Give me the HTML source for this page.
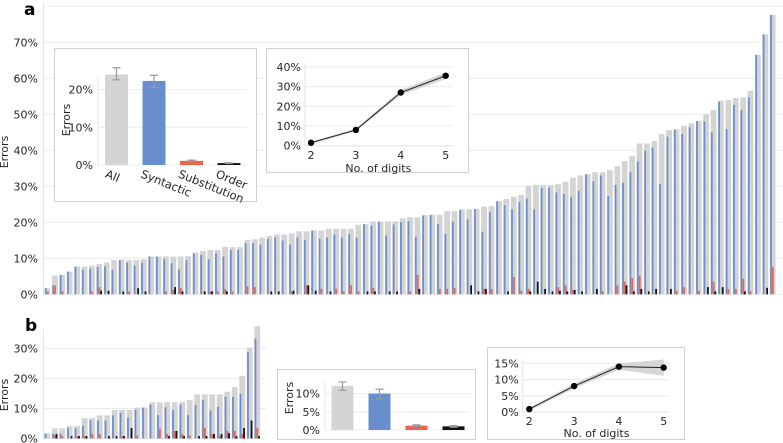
<!DOCTYPE html>
<html><head><meta charset="utf-8">
<style>
html,body{margin:0;padding:0;background:#fff;}
svg{display:block;font-family:"DejaVu Sans","Liberation Sans",sans-serif;}
</style></head>
<body>
<svg id="chart" width="783" height="443" viewBox="0 0 783 443" xmlns="http://www.w3.org/2000/svg"></svg>
<script>
// ---------- data ----------
const aAll = [1.7,5.2,5.4,6.3,7.7,7.7,7.9,8.4,8.8,9.5,9.6,9.5,9.5,9.7,10.5,10.5,10.5,10.5,10.5,10.6,11.6,12,12.3,12.3,13.2,13.1,13.1,15.1,15.3,15.8,16.2,16.6,16.6,16.9,17.5,17.5,17.7,17.7,18.2,18.2,18.2,18.2,19.3,19.5,20.2,20.2,20.2,20.3,
21.1,21.4,21.4,22.0,22.1,22.1,23.1,23.1,23.6,23.6,23.7,24.4,24.5,25.9,26.5,27.1,27.6,30.1,30.4,30.4,30.4,30.6,31.3,32.4,33.0,33.4,33.9,33.9,34.5,35.6,37.0,38.4,41.9,41.9,42.6,44.5,45.6,45.9,46.8,47.5,48.1,50.0,51.2,53.8,54.0,54.5,54.7,56.5,66.5,72.2,77.6];
const aSyn = [1.7,2.5,5.4,6.3,7.7,6.8,7.1,7.6,7.8,6.8,9.5,8.8,8.0,8.8,10.5,10.5,9.8,8.6,6.9,9.5,11.3,10.9,9.7,11.4,10.5,12.3,12.3,14.2,14.2,13.8,15.4,15.8,14.9,13.8,15.8,15.1,17.7,15.5,15.8,16.6,15.8,16.8,15.8,19.5,19.0,20.2,16.3,19.4,
20.0,20.3,16.0,21.9,22.0,19.5,16.8,20.2,23.4,20.9,23.7,17.4,22.9,25.8,24.8,23.6,25.6,26.6,23.6,29.6,29.6,28.3,27.9,26.9,28.7,33.3,31.4,33.0,27.3,30.4,31.0,33.9,36.9,39.9,40.8,30.7,43.8,45.7,44.5,46.4,48.1,48.0,45.0,53.5,45.9,52.6,51.2,54.7,66.5,72.2,77.6];
const aSub = [0.8,2.4,0.8,0,0,0,0.8,2.0,0,0,0,0.8,0,0,0,0,0.8,1.2,1.8,0,0,0,0.8,0.8,1.5,0.8,0,2.2,2.0,0,0,0,0,0.8,0,2.5,0,1.5,0,1.6,0.8,2.5,0.8,0,1.8,0,0,0,
0,0.8,5.4,0,0,1.5,1.5,1.8,0,0,0,1.5,1.5,0,0,4.8,1.0,1.5,0,0,0,2.0,2.5,1.2,0,0,0,0.8,0,2.5,3.5,4.5,5.2,0,0,0,0,1.0,2.0,0,1.0,0,3.5,0,1.5,1.5,4.3,0.8,0,0,7.5];
const aOrd = [0,0,0,0,0,0,0,1.0,1.0,0,0.8,0,1.7,0.8,0,0,0,2.0,0.8,0,0,0.8,0.8,0,0.8,0,0,0,0,0,0.8,0.8,0,1.0,0,2.5,1.0,0,0.8,0,0,0,0,0.8,0.8,0,0.8,0.8,
0,0,1.5,0,0,0,0,0,0,2.5,0.8,1.5,0,0,0.8,0,0,0.8,3.5,1.5,0.8,1.0,0.8,1.2,0.8,0,1.5,0,0,0,2.5,0.8,1.5,0.8,1.5,0,1.5,0,0,0,0,2.0,0.8,2.0,0,0,0.8,0,0,1.8,0];
const aTicks = ["0%","10%","20%","30%","40%","50%","60%","70%"];

const bAll = [1.7,3.4,3.4,4.2,4.2,6.8,6.8,7.7,7.7,9.5,9.5,9.5,10.3,10.3,12.1,12.1,12.1,12.1,12.2,12.8,14.7,14.7,14.7,14.7,15.6,17.2,20.9,30.3,37.4];
const bSyn = [1.6,1.6,1.6,3.5,3.4,4.3,6.1,6.0,6.0,7.7,8.6,7.0,9.6,10.3,11.3,7.8,10.4,9.5,11.3,7.8,11.2,12.9,9.4,10.5,13.9,13.9,14.9,28.7,33.3];
const bSub = [0,1.2,0.8,0,0.8,0.8,1.5,1.5,0,0,0.8,0,1.0,0,0,3.3,1.5,2.5,1.5,1.0,0,3.5,1.5,0.8,2.5,2.5,1.5,0,3.5];
const bOrd = [0,1.5,0,0.8,0.8,0.8,0,0,0.8,0.8,0.8,3.5,0,0,0,0,0.8,2.5,0.8,0,0.8,0.8,1.5,1.5,1.8,0.8,3.5,6.0,0.8];
const bTicks = ["0%","10%","20%","30%"];

const catNames = ["All","Syntactic","Substitution","Order"];
const aCatMean = [24.0,22.3,1.1,0.5];
const aCatLo = [22.6,20.6,1.0,0.4];
const aCatHi = [25.8,23.8,1.3,0.6];
const bCatMean = [12.1,10.0,1.2,1.0];
const bCatLo = [10.9,8.6,1.0,0.8];
const bCatHi = [13.2,11.2,1.4,1.2];

const digits = [2,3,4,5];
const aDigMean = [1.5,8.0,27.0,35.5];
const aDigLo = [1.0,7.3,25.8,33.8];
const aDigHi = [2.0,8.7,28.3,37.2];
const bDigMean = [0.9,8.0,14.0,13.7];
const bDigLo = [0.5,7.3,13.0,11.2];
const bDigHi = [1.3,8.8,15.0,16.2];

// ---------- helpers ----------
const svg = document.getElementById('chart');
const NS = 'http://www.w3.org/2000/svg';
function mk(tag, attrs, parent){
  const e = document.createElementNS(NS, tag);
  for (const k in attrs) e.setAttribute(k, attrs[k]);
  (parent||svg).appendChild(e);
  return e;
}
const C = {all:'#d4d4d4', syn:'#6a8dcd', sub:'#f0624d', ord:'#111111', grid:'#ececec', box:'#d0d0d0', txt:'#262626'};

function text(x,y,s,opts,parent){
  const t = mk('text', Object.assign({x:x,y:y,'font-size':11,fill:C.txt}, opts||{}), parent);
  t.textContent = s;
  return t;
}

// ---------- main bar panels ----------
function mainPanel(name, all, syn, sub, ord, ticks, x0, step, y0, pxPer, gridRight, extraTop){
  const g = mk('g', {});
  
  
  const yS = v => y0 - v * pxPer;
  const xS = i => x0 + i * step;
  const gridVals = ticks.map((t,i)=>i*10).concat(extraTop ? [ticks.length*10] : []);
  gridVals.forEach(v=>{
    const l = mk('line',{x1:44,x2:gridRight,y1:yS(v),y2:yS(v),stroke:C.grid,'stroke-width':1}, g);
    
    
  });
  ticks.forEach((t,i)=>{
    const tt = text(38, yS(i*10)+4, t, {'text-anchor':'end'}, g);
    
    
  });
  const ax = mk('line',{x1:43.5,x2:43.5,y1:yS(extraTop?ticks.length*10:ticks.length*10-5)-4,y2:y0,stroke:'#e4e4e4','stroke-width':1}, g);
  
  
  const gw = step*0.78, sw = gw/3.3;
  all.forEach((v,i)=>{
    const c = xS(i);
    const r1 = mk('rect',{x:c-gw/2,y:yS(v),width:gw,height:v*pxPer,fill:C.all}, g);
    
    
    const r2 = mk('rect',{x:c-gw/2+0.3,y:yS(syn[i]),width:sw,height:syn[i]*pxPer,fill:C.syn}, g);
    
    
    if (sub[i]>0){
      const r3 = mk('rect',{x:c-sw/2+0.2,y:yS(sub[i]),width:sw,height:sub[i]*pxPer,fill:C.sub}, g);
      
      
    }
    if (ord[i]>0){
      const r4 = mk('rect',{x:c+gw/2-sw-0.2,y:yS(ord[i]),width:sw,height:ord[i]*pxPer,fill:C.ord}, g);
      
      
    }
  });
}

// ---------- category inset ----------
function catInset(name, box, axX, y0, pxPer, tickVals, mean, lo, hi, barX0, barStep, barW, gridR, showLabels, errLabelY){
  const g = mk('g',{});
  
  
  const b = mk('rect',{x:box[0]+0.5,y:box[1]+0.5,width:box[2],height:box[3],fill:'#fff',stroke:C.box,'stroke-width':1}, g);
  
  
  const yS = v => y0 - v*pxPer;
  tickVals.forEach(v=>{
    const l = mk('line',{x1:axX,x2:gridR,y1:yS(v),y2:yS(v),stroke:C.grid,'stroke-width':1}, g);
    
    
    const t = text(axX-5, yS(v)+4, v+'%', {'text-anchor':'end'}, g);
    
    
  });
  const ax = mk('line',{x1:axX,x2:axX,y1:yS(tickVals[tickVals.length-1])-12,y2:y0,stroke:'#e4e4e4'}, g);
  
  
  const yl = text(0,0,'Errors',{'text-anchor':'middle',transform:`translate(${box[0]+16},${errLabelY}) rotate(-90)`}, g);
  
  
  const cols = [C.all,C.syn,C.sub,C.ord];
  mean.forEach((v,i)=>{
    const c = barX0 + i*barStep;
    const r = mk('rect',{x:c-barW/2,y:yS(v),width:barW,height:v*pxPer,fill:cols[i]}, g);
    
    
    const e = mk('path',{d:`M${c-4},${yS(hi[i])}H${c+4}M${c},${yS(hi[i])}V${yS(lo[i])}M${c-4},${yS(lo[i])}H${c+4}`,stroke:'#999','stroke-width':1.2,fill:'none'}, g);
    
    
    if (showLabels){
      const t = text(0,0,catNames[i],{'font-size':11.5,transform:`translate(${c-14+(i===0?2:0)},${y0+12}) rotate(22)`}, g);
      
      
    }
  });
}

// ---------- digits inset ----------
function digInset(name, box, axX, y0, pxPer, tickVals, x2, xStep, mean, lo, hi, gridR, labY, titleY){
  const g = mk('g',{});
  
  
  const b = mk('rect',{x:box[0]+0.5,y:box[1]+0.5,width:box[2],height:box[3],fill:'#fff',stroke:C.box,'stroke-width':1}, g);
  
  
  const yS = v => y0 - v*pxPer;
  const xS = d => x2 + (d-2)*xStep;
  tickVals.forEach(v=>{
    const l = mk('line',{x1:axX,x2:gridR,y1:yS(v),y2:yS(v),stroke:C.grid}, g);
    
    
    const t = text(axX-4, yS(v)+4, v+'%', {'text-anchor':'end'}, g);
    
    
  });
  const ax = mk('line',{x1:axX,x2:axX,y1:yS(tickVals[tickVals.length-1])-4,y2:y0,stroke:'#e4e4e4'}, g);
  
  
  const bx = mk('line',{x1:axX,x2:gridR,y1:y0,y2:y0,stroke:'#e4e4e4'}, g);
  
  
  let band = 'M' + digits.map((d,i)=>xS(d)+','+yS(hi[i])).join('L');
  band += 'L' + digits.slice().reverse().map((d,j)=>{const i=digits.length-1-j;return xS(d)+','+yS(lo[i]);}).join('L') + 'Z';
  const bp = mk('path',{d:band,fill:'#cfcfcf','fill-opacity':0.85}, g);
  
  
  const ln = mk('path',{d:'M'+digits.map((d,i)=>xS(d)+','+yS(mean[i])).join('L'),stroke:'#222','stroke-width':1,fill:'none'}, g);
  
  
  digits.forEach((d,i)=>{
    const p = mk('circle',{cx:xS(d),cy:yS(mean[i]),r:3.2,fill:'#000'}, g);
    
    
    const t = text(xS(d), labY, String(d), {'text-anchor':'middle'}, g);
    
    
  });
  const tt = text((xS(2)+xS(5))/2, titleY, 'No. of digits', {'text-anchor':'middle'}, g);
  
  
}

// ---------- draw ----------
mainPanel('panel-a', aAll, aSyn, aSub, aOrd, aTicks, 47.5, 7.4, 294.3, 3.6, 783, true);
mainPanel('panel-b', bAll, bSyn, bSub, bOrd, bTicks, 47.2, 7.5, 438.5, 3.0, 266, false);

catInset('panel-a', [54,48,202,153], 98, 165, 3.77, [0,10,20], aCatMean, aCatLo, aCatHi, 116.5, 37.5, 23, 247, true, 120);
catInset('panel-b', [277,369,198,70], 325, 430, 3.64, [0,5,10], bCatMean, bCatLo, bCatHi, 342.5, 37, 22, 470, false, 398);

digInset('panel-a', [266,48,202,124], 305, 145.7, 1.97, [0,10,20,30,40], 311, 44.9, aDigMean, aDigLo, aDigHi, 453, 159, 172);
digInset('panel-b', [487,347,197,92], 522.7, 412, 3.24, [0,5,10,15], 529.3, 44.8, bDigMean, bDigLo, bDigHi, 670, 425, 437);

// panel labels & y titles
const la = text(24, 15, 'a', {'font-size':17,'font-weight':'bold',fill:'#000'});


const lb = text(25, 331, 'b', {'font-size':17,'font-weight':'bold',fill:'#000'});


const ya = text(0,0,'Errors',{'text-anchor':'middle',transform:'translate(8,152) rotate(-90)'});


const yb = text(0,0,'Errors',{'text-anchor':'middle',transform:'translate(8,395) rotate(-90)'});


</script>
</body></html>
